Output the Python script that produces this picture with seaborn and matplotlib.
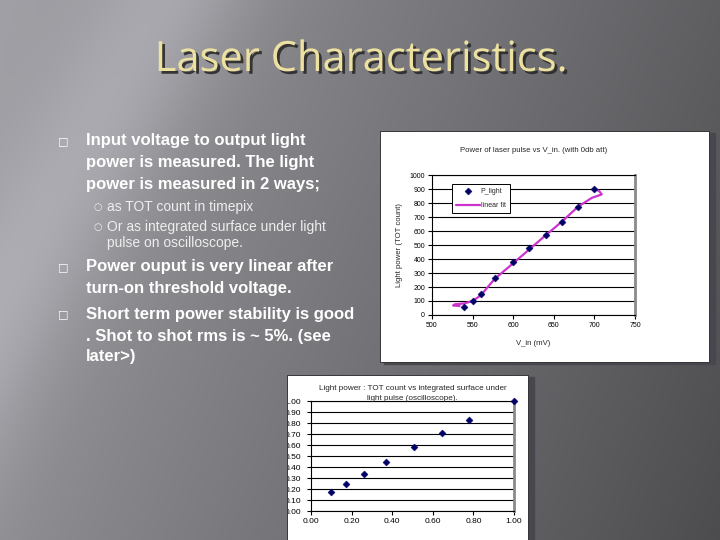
import numpy as np
import pandas as pd
import matplotlib
matplotlib.use('Agg')
import matplotlib.pyplot as plt
import matplotlib.patheffects as pe
from matplotlib.patches import Rectangle
from matplotlib.transforms import Bbox, TransformedBbox
import seaborn as sns

# chart 1: light power vs input voltage
v_in = [540, 550, 560, 577, 600, 620, 640, 660, 680, 700]
p_light = [58, 98, 148, 267, 378, 476, 571, 667, 773, 902]
fit_x = [534, 526, 528, 540, 550, 560, 577, 600, 620, 640, 660, 680, 697, 709, 706, 700]
fit_y = [64, 68, 76, 83, 100, 140, 257, 370, 470, 570, 668, 775, 838, 862, 885, 902]

# chart 2: TOT count vs integrated surface (normalised)
surface = [0.10, 0.17, 0.26, 0.37, 0.505, 0.645, 0.78, 1.00]
tot_norm = [0.17, 0.25, 0.335, 0.45, 0.585, 0.705, 0.83, 1.00]

bullets = [
    ("Input voltage to output light", 0, 141),
    ("power is measured. The light", 0, 163),
    ("power is measured in 2 ways;", 0, 184),
    ("as TOT count in timepix", 1, 207),
    ("Or as integrated surface under light", 1, 227),
    ("pulse on oscilloscope.", 1, 243),
    ("Power ouput is very linear after", 0, 267),
    ("turn-on threshold voltage.", 0, 289),
    ("Short term power stability is good", 0, 314),
    (". Shot to shot rms is ~ 5%. (see", 0, 336),
    ("later>)", 0, 357),
]
bullet_marks = [141, 267, 314]
sub_marks = [207, 227]

sns.set_style('white')
plt.rcParams['font.family'] = ['Liberation Sans', 'DejaVu Sans']

fig = plt.figure(figsize=(7.2, 5.4), dpi=100)

# slide background
bg = fig.add_axes([0, 0, 1, 1])
xx, yy = np.meshgrid(np.arange(720), np.arange(540))
val = 0.63 - 0.26 * (xx / 720) - 0.07 * (yy / 540)
d = (xx + 0.55 * yy - 170) / 80.0
val = val + 0.09 * np.exp(-d ** 2)
img = np.dstack([val, val * 0.995, val * 1.03]).clip(0, 1)
bg.imshow(img, extent=(0, 720, 540, 0), aspect='auto')
bg.set_xlim(0, 720)
bg.set_ylim(540, 0)
bg.axis('off')

bg.text(361, 60, "Laser Characteristics.", fontsize=30, color='#ece1a0',
        ha='center', va='center', family=['Open Sans', 'DejaVu Sans'],
        path_effects=[pe.withSimplePatchShadow(offset=(2, -2), shadow_rgbFace='#2a2a2a', alpha=0.9)])

for txt, lvl, y in bullets:
    if lvl == 0:
        bg.text(86, y, txt, fontsize=12, fontweight='bold', color='white', va='center')
    else:
        bg.text(107, y, txt, fontsize=10, color='#eeeeee', va='center')
for y in bullet_marks:
    bg.text(58, y, "\u25a1", fontsize=8, color='white', va='center', family=['DejaVu Sans'])
for y in sub_marks:
    bg.text(93, y, "\u25cb", fontsize=7, color='#eeeeee', va='center', family=['DejaVu Sans'])

# white chart boxes
bg.add_patch(Rectangle((384, 133), 331, 231, color='#48474d', zorder=2))
bg.add_patch(Rectangle((380, 131), 329, 231, facecolor='white', edgecolor='#222222', lw=0.6, zorder=3))
bg.add_patch(Rectangle((292, 377), 242, 170, color='#48474d', zorder=2))
bg.add_patch(Rectangle((287, 375), 241, 170, facecolor='white', edgecolor='#222222', lw=0.6, zorder=3))

navy = '#000066'
pink = '#cc33cc'
small = 5.6

def style_axes(ax, lsize, pad=2):
    ax.set_facecolor('white')
    for s in ['left', 'bottom', 'top']:
        ax.spines[s].set_color('black')
        ax.spines[s].set_linewidth(0.8)
    ax.spines['right'].set_color('#8a8a8a')
    ax.spines['right'].set_linewidth(2)
    ax.grid(axis='y', color='black', lw=0.8)
    ax.grid(axis='x', visible=False)
    ax.tick_params(axis='both', which='major', direction='out', length=3, width=0.8,
                   labelsize=lsize, pad=pad, left=True, bottom=True, colors='black')
    ax.set_axisbelow(True)

# chart 1
ax1 = fig.add_axes([0.6, 0.4167, 0.282, 0.259])
df1 = pd.DataFrame({'V_in': v_in, 'P_light': p_light})
fit = pd.DataFrame({'x': fit_x, 'y': fit_y})
sns.scatterplot(data=df1, x='V_in', y='P_light', marker='D', s=13, color=navy,
                edgecolor=navy, label='P_light', ax=ax1, zorder=4)
sns.lineplot(data=fit, x='x', y='y', sort=False, estimator=None, color=pink, lw=1.6,
             label='linear fit', ax=ax1, zorder=3)
ax1.set_xlim(500, 750)
ax1.set_ylim(0, 1000)
ax1.set_xticks(np.arange(500, 751, 50))
ax1.set_yticks(np.arange(0, 1001, 100))
style_axes(ax1, 5)
ax1.set_xlabel('V_in (mV)', fontsize=small, labelpad=8)
ax1.set_ylabel('Light power (TOT count)', fontsize=small, labelpad=5)
ax1.set_title('Power of laser pulse vs V_in. (with 0db att)', fontsize=small, pad=17)
leg = ax1.legend(loc='upper left', bbox_to_anchor=(0.1, 0.94), fontsize=5, frameon=True,
                 fancybox=False, edgecolor='black', framealpha=1, handlelength=3.4,
                 borderpad=0.6, labelspacing=1.1, handletextpad=0.1, borderaxespad=0)
leg.get_frame().set_linewidth(0.7)

# chart 2
ax2 = fig.add_axes([0.432, 0.0537, 0.282, 0.2037])
df2 = pd.DataFrame({'surface': surface, 'tot': tot_norm})
sns.scatterplot(data=df2, x='surface', y='tot', marker='D', s=13, color=navy,
                edgecolor=navy, ax=ax2, zorder=4, clip_on=False)
ax2.set_xlim(0, 1)
ax2.set_ylim(0, 1)
ax2.set_xticks(np.arange(0, 1.01, 0.2))
ax2.set_yticks(np.arange(0, 1.01, 0.1))
ax2.xaxis.set_major_formatter(matplotlib.ticker.FormatStrFormatter('%.2f'))
ax2.yaxis.set_major_formatter(matplotlib.ticker.FormatStrFormatter('%.2f'))
style_axes(ax2, 6)
ax2.tick_params(axis='y', pad=4)
ax2.set_xlabel('')
ax2.set_ylabel('')
ax2.set_title('Light power : TOT count vs integrated surface under\nlight pulse (oscilloscope).',
              fontsize=5.9, pad=1, linespacing=1.5)

# the second chart is cropped at its left edge on the slide
clip = TransformedBbox(Bbox([[288, 375], [528, 540]]), bg.transData)
for lab in ax2.get_yticklabels():
    lab.set_clip_box(clip)
    lab.set_clip_on(True)

fig.savefig('out.png', dpi=100)
